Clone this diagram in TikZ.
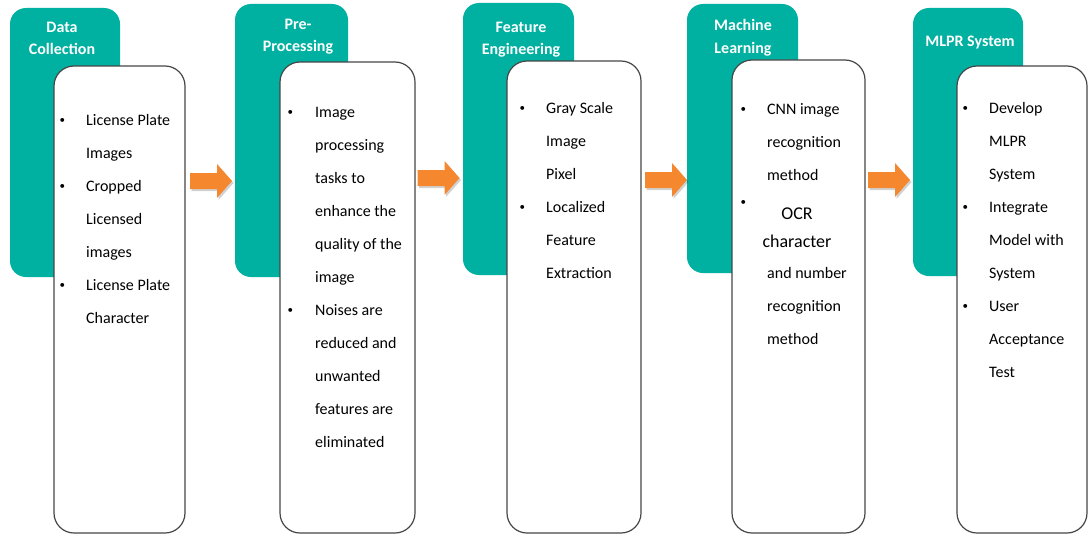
\documentclass[tikz,border=0pt]{standalone}
\usepackage{fontspec}
\setmainfont{Carlito}
\usetikzlibrary{fit}

\definecolor{stageteal}{RGB}{0,176,160}
\definecolor{floworange}{RGB}{245,135,47}
\definecolor{cardedge}{RGB}{70,70,70}

\tikzset{
  stage/.style={fill=stageteal, rounded corners=16pt, inner sep=0pt},
  card/.style={draw=cardedge, line width=1.2pt, fill=white, rounded corners=20pt, inner sep=0pt},
  stagetitle/.style={anchor=base, inner sep=0pt, text=white,
    font=\fontsize{16}{22}\selectfont\bfseries},
  items/.style={anchor=base west, inner sep=0pt, font=\fontsize{16}{33}\selectfont},
  flowfill/.style={fill=floworange},
  flowshade/.style={fill=black, opacity=0.18}
}
% small list bullet
\newcommand{\bul}{\raisebox{1.6pt}{\fontsize{11}{11}\selectfont\textbullet}}
% block arrow centred on a named coordinate
\newcommand{\blockarrow}[1]{%
  \path[flowshade] (#1) ++(-19.5,-6) -- ++(27,0) -- ++(0,-9) -- ++(15,17)
    -- ++(-15,17) -- ++(0,-9) -- ++(-27,0) -- cycle;
  \path[flowfill] (#1) ++(-21,-8) -- ++(27,0) -- ++(0,-9) -- ++(15,17)
    -- ++(-15,17) -- ++(0,-9) -- ++(-27,0) -- cycle;}

\begin{document}
\begin{tikzpicture}[x=1pt,y=-1pt]
  \useasboundingbox (0,0) rectangle (1091,535);

  % teal stage panels
  \node[stage, fit={(10,8) (120,277)}] (s1) {};
  \node[stage, fit={(235,4) (348,277)}] (s2) {};
  \node[stage, fit={(463,3) (574,275)}] (s3) {};
  \node[stage, fit={(687,4) (798,273)}] (s4) {};
  \node[stage, fit={(913,8) (1023,276)}] (s5) {};

  % stage titles
  \node[stagetitle] (t1) at (62,33) {\begin{tabular}[t]{@{}c@{}}Data\\Collection\end{tabular}};
  \node[stagetitle] (t2) at (298,30) {\begin{tabular}[t]{@{}c@{}}Pre-\\Processing\end{tabular}};
  \node[stagetitle] (t3) at (521,33) {\begin{tabular}[t]{@{}c@{}}Feature\\Engineering\end{tabular}};
  \node[stagetitle] (t4) at (743,31) {\begin{tabular}[t]{@{}c@{}}Machine\\Learning\end{tabular}};
  \node[stagetitle] (t5) at (970,47) {MLPR System};

  % white detail cards
  \node[card, fit={(54,66) (185,533)}] (c1) {};
  \node[card, fit={(280,62) (415,533)}] (c2) {};
  \node[card, fit={(507,61) (641,533)}] (c3) {};
  \node[card, fit={(732,60) (865,533)}] (c4) {};
  \node[card, fit={(957,66) (1087,533)}] (c5) {};

  % card contents
  \node[items] (l1) at (59.5,125) {\begin{tabular}[t]{@{}p{26.5pt}@{}l@{}}
    \bul & License Plate\\ & Images\\
    \bul & Cropped\\ & Licensed\\ & images\\
    \bul & License Plate\\ & Character
  \end{tabular}};

  \node[items] (l2) at (287.5,117) {\begin{tabular}[t]{@{}p{27.5pt}@{}l@{}}
    \bul & Image\\ & processing\\ & tasks to\\ & enhance the\\ & quality of the\\ & image\\
    \bul & Noises are\\ & reduced and\\ & unwanted\\ & features are\\ & eliminated
  \end{tabular}};

  \node[items] (l3) at (519.5,113) {\begin{tabular}[t]{@{}p{26.5pt}@{}l@{}}
    \bul & Gray Scale\\ & Image\\ & Pixel\\
    \bul & Localized\\ & Feature\\ & Extraction
  \end{tabular}};

  \node[items] (l4a) at (740.5,114) {\begin{tabular}[t]{@{}p{26.5pt}@{}l@{}}
    \bul & CNN image\\ & recognition\\ & method
  \end{tabular}};
  \node[items] (l4b) at (740.5,207) {\bul};
  \node[anchor=base, inner sep=0pt, font=\fontsize{18}{28}\selectfont] (l4c) at (797,219)
    {\begin{tabular}[t]{@{}c@{}}OCR\\character\end{tabular}};
  \node[items] (l4d) at (767,278) {\begin{tabular}[t]{@{}l@{}}
    and number\\ recognition\\ method
  \end{tabular}};

  \node[items] (l5) at (962.5,113) {\begin{tabular}[t]{@{}p{26.5pt}@{}l@{}}
    \bul & Develop\\ & MLPR\\ & System\\
    \bul & Integrate\\ & Model with\\ & System\\
    \bul & User\\ & Acceptance\\ & Test
  \end{tabular}};

  % flow arrows between stages
  \coordinate (a1) at (211,181);
  \coordinate (a2) at (438.5,178);
  \coordinate (a3) at (666,180);
  \coordinate (a4) at (889,180);
  \blockarrow{a1}
  \blockarrow{a2}
  \blockarrow{a3}
  \blockarrow{a4}
\end{tikzpicture}
\end{document}
